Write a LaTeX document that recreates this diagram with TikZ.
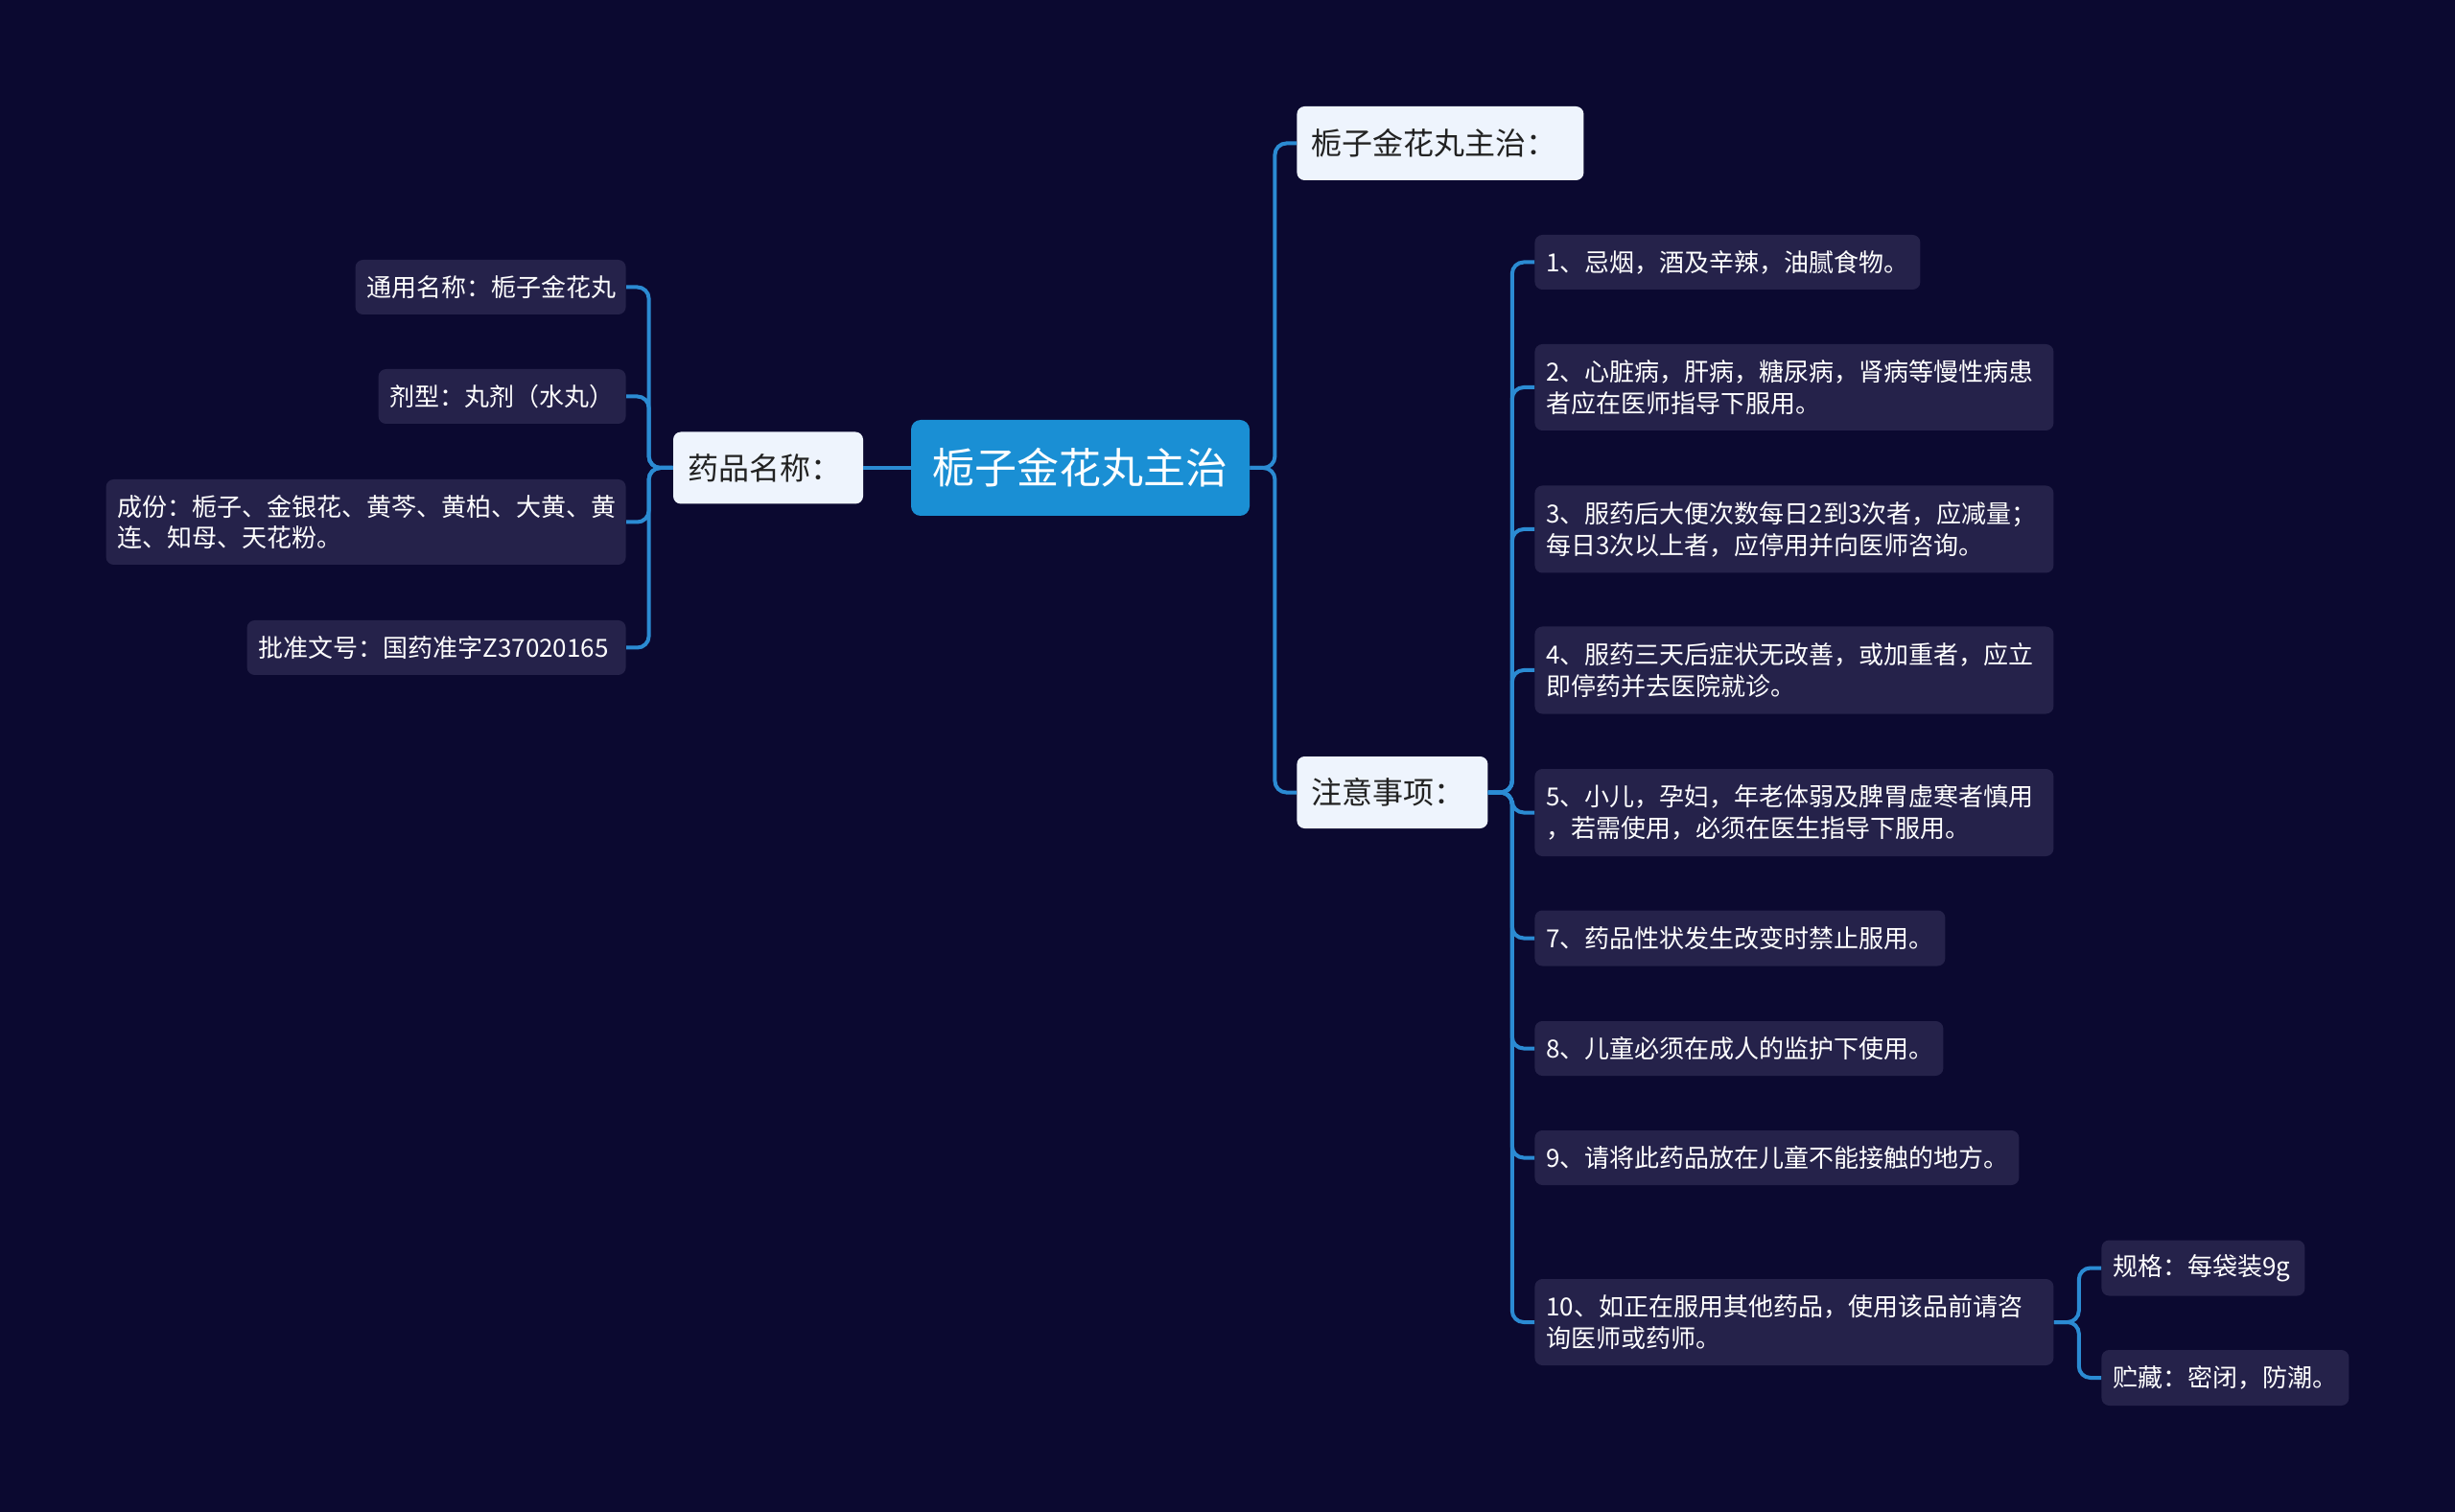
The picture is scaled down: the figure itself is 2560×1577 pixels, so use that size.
\documentclass[tikz,border=0pt]{standalone}
\usepackage{fontspec}
\newfontfamily\cjk{Noto Sans CJK SC}
\definecolor{bgc}{HTML}{0B0930}
\definecolor{leafc}{HTML}{25224A}
\definecolor{lightc}{HTML}{EEF4FD}
\definecolor{rootc}{HTML}{1A8FD4}
\definecolor{linec}{HTML}{2B8BD3}
\definecolor{darktext}{HTML}{222222}
\tikzset{
  leaf/.style={fill=leafc, text=white, rounded corners=4pt, inner xsep=6pt, inner ysep=0pt,
    align=left, font=\cjk\fontsize{13}{16.4}\selectfont},
  lightbox/.style={fill=lightc, text=darktext, rounded corners=4pt, inner xsep=7.5pt, inner ysep=0pt,
    align=left, font=\cjk\fontsize{16}{19}\selectfont},
  rootbox/.style={fill=rootc, text=white, rounded corners=5pt, inner sep=0pt,
    font=\cjk\fontsize{22}{26}\selectfont},
  conn/.style={draw=linec, line width=2pt, rounded corners=6pt},
  bw/.code={\pgfmathsetmacro\boxtw{#1-12}\edef\boxnext{\noexpand\tikzset{minimum width=#1pt,text width=\boxtw pt}}\boxnext},
  lw/.code={\pgfmathsetmacro\boxtw{#1-15}\edef\boxnext{\noexpand\tikzset{minimum width=#1pt,text width=\boxtw pt}}\boxnext}
}
\begin{document}
\begin{tikzpicture}[x=0.5pt,y=-0.5pt]
\fill[bgc] (0,0) rectangle (2560,1577);
\useasboundingbox (0,0) rectangle (2560,1577);

% root
\node[rootbox, minimum width=176.5pt, minimum height=50pt] (root) at (1126.5,488) {栀子金花丸主治};

% left branch
\node[lightbox, lw=99, minimum height=37.5pt] (yp) at (801,488) {药品名称：};
\node[leaf, anchor=east, bw=141, minimum height=28.5pt] (l1) at (653,299.5) {通用名称：栀子金花丸};
\node[leaf, anchor=east, bw=129, minimum height=28.5pt] (l2) at (653,413.5) {剂型：丸剂（水丸）};
\node[leaf, anchor=east, bw=271, minimum height=44.5pt] (l3) at (653,544.5) {成份：栀子、金银花、黄芩、黄柏、大黄、黄\\连、知母、天花粉。};
\node[leaf, anchor=east, bw=197.5, minimum height=28.5pt] (l4) at (653,675.5) {批准文号：国药准字Z37020165};

% right branch
\node[lightbox, anchor=west, lw=149.5, minimum height=38.5pt] (r1) at (1352,149.5) {栀子金花丸主治：};
\node[lightbox, anchor=west, lw=99.5, minimum height=37.5pt] (r2) at (1352,826.5) {注意事项：};

\node[leaf, anchor=west, bw=201, minimum height=28.5pt] (i1) at (1600,273.5) {1、忌烟，酒及辛辣，油腻食物。};
\node[leaf, anchor=west, bw=270.5, minimum height=45pt] (i2) at (1600,404) {2、心脏病，肝病，糖尿病，肾病等慢性病患\\者应在医师指导下服用。};
\node[leaf, anchor=west, bw=270.5, minimum height=45.5pt] (i3) at (1600,552) {3、服药后大便次数每日2到3次者，应减量；\\每日3次以上者，应停用并向医师咨询。};
\node[leaf, anchor=west, bw=270.5, minimum height=45.5pt] (i4) at (1600,699) {4、服药三天后症状无改善，或加重者，应立\\即停药并去医院就诊。};
\node[leaf, anchor=west, bw=270.5, minimum height=45.5pt] (i5) at (1600,847.5) {5、小儿，孕妇，年老体弱及脾胃虚寒者慎用\\，若需使用，必须在医生指导下服用。};
\node[leaf, anchor=west, bw=214, minimum height=29pt] (i7) at (1600,978.5) {7、药品性状发生改变时禁止服用。};
\node[leaf, anchor=west, bw=213, minimum height=28.5pt] (i8) at (1600,1093.5) {8、儿童必须在成人的监护下使用。};
\node[leaf, anchor=west, bw=252.5, minimum height=28.5pt] (i9) at (1600,1207.5) {9、请将此药品放在儿童不能接触的地方。};
\node[leaf, anchor=west, bw=270.5, minimum height=45pt] (i10) at (1600,1379) {10、如正在服用其他药品，使用该品前请咨\\询医师或药师。};

\node[leaf, anchor=west, bw=106, minimum height=29pt] (s1) at (2191,1322.5) {规格：每袋装9g};
\node[leaf, anchor=west, bw=129, minimum height=29pt] (s2) at (2191,1437) {贮藏：密闭，防潮。};

% connectors
\draw[conn] (root.west) -- (yp.east);
\foreach \c in {l1,l2,l3,l4}{
  \draw[conn] (yp.west) -- ++(-25,0) |- (\c.east);
}
\foreach \c in {r1,r2}{
  \draw[conn] (root.east) -- ++(26,0) |- (\c.west);
}
\foreach \c in {i1,i2,i3,i4,i5,i7,i8,i9,i10}{
  \draw[conn] (r2.east) -- ++(25,0) |- (\c.west);
}
\foreach \c in {s1,s2}{
  \draw[conn] (i10.east) -- ++(26,0) |- (\c.west);
}
\end{tikzpicture}
\end{document}
